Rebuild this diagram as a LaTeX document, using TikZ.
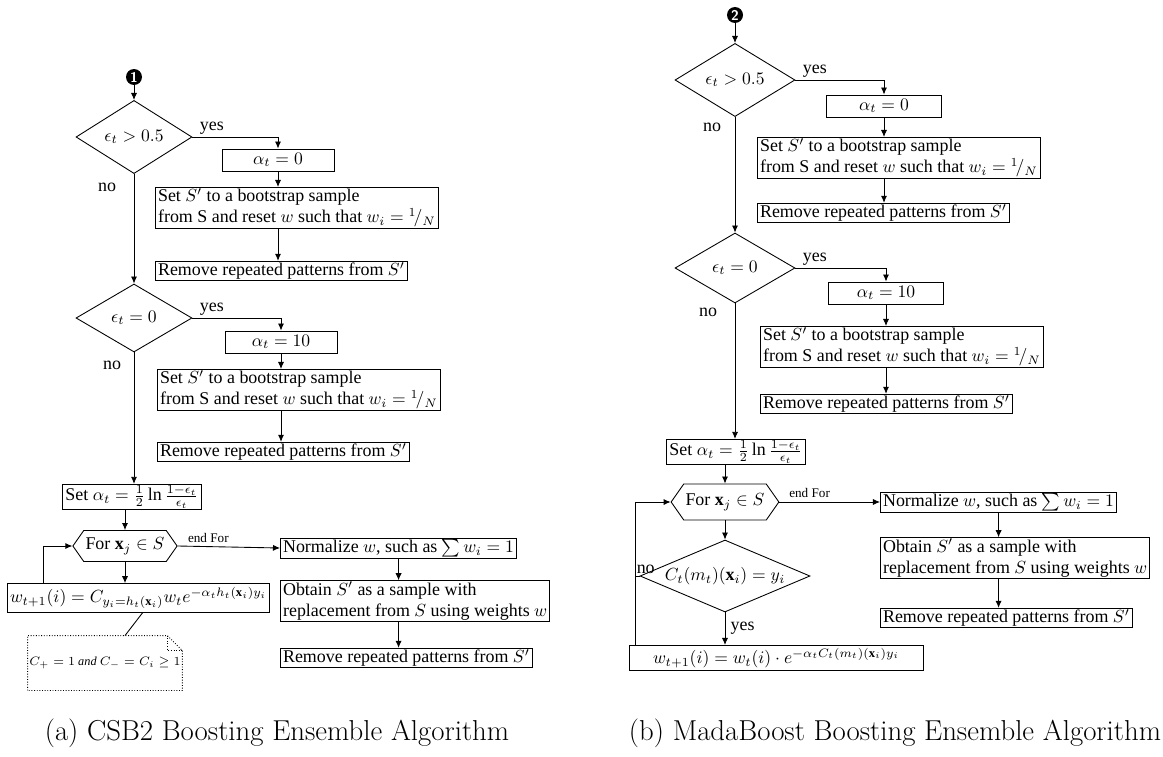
\documentclass[tikz,border=0pt]{standalone}
\usepackage{fontspec}
\setmainfont{Liberation Serif}
\newfontfamily\capfont{Latin Modern Roman}
\usetikzlibrary{shapes.geometric, shapes.symbols, arrows.meta, positioning, calc}

\begin{document}
\begin{tikzpicture}[x=0.02cm, y=-0.02cm, font=\fontsize{10.2}{12}\selectfont, line width=0.5pt,
          stepbox/.style={rectangle, draw, inner xsep=1.5pt, inner ysep=0.7pt, align=left},
          alphabox/.style={rectangle, draw, minimum width=2.24cm, minimum height=0.44cm, inner sep=0pt},
          decision/.style={diamond, draw, inner sep=0pt},
          loopbox/.style={signal, signal to=west and east, signal pointer angle=110, draw, inner sep=1pt},
          notebox/.style={minimum width=3.08cm, minimum height=1.08cm, inner sep=0pt, font=\fontsize{7}{8}\selectfont},
          startdot/.style={circle, fill=black, text=white, inner sep=0pt, minimum size=0.32cm, font=\sffamily\bfseries\fontsize{8}{8}\selectfont},
          lbl/.style={inner sep=1pt},
          endfor/.style={above, inner sep=2pt, font=\fontsize{7.5}{9}\selectfont},
          caption/.style={font=\capfont\fontsize{16.4}{19}\selectfont},
          arrow/.style={-{Latex[length=4pt,width=3.5pt]}}]

        \useasboundingbox (0,0) rectangle (1163,757);

        % (a) CSB2
        \node [startdot] (n1) at (134,77) {1};
        \node [decision, minimum width=2.32cm, minimum height=1.36cm] (d1) at (134,137) {$\epsilon_t > 0.5$};
        \node [lbl, anchor=south west] (y1) at ([xshift=3pt]d1.east) {yes};
        \node [alphabox] (a1) at (278,160) {$\alpha_t = 0$};
        \node [stepbox, anchor=west] (s1) at (155,208) {Set $S'$ to a bootstrap sample\\from S and reset $w$ such that $w_i = {}^{1}\!/_{N}$};
        \node [stepbox, anchor=west] (r1) at (155,271) {Remove repeated patterns from $S'$};
        \node [lbl] (no1) at (107,187) {no};

        \node [decision, minimum width=2.32cm, minimum height=1.36cm] (d2) at (134,318) {$\epsilon_t = 0$};
        \node [lbl, anchor=south west] (y2) at ([xshift=3pt]d2.east) {yes};
        \node [alphabox] (a2) at (281,342) {$\alpha_t = 10$};
        \node [stepbox, anchor=west] (s2) at (157,390) {Set $S'$ to a bootstrap sample\\from S and reset $w$ such that $w_i = {}^{1}\!/_{N}$};
        \node [stepbox, anchor=west] (r2) at (157,452) {Remove repeated patterns from $S'$};
        \node [lbl] (no2) at (112,365) {no};

        \node [stepbox] (sa1) at (132,497) {Set $\alpha_t = \frac{1}{2}\ln\frac{1-\epsilon_t}{\epsilon_t}$};
        \node [loopbox, minimum width=1.94cm, minimum height=0.62cm] (hx1) at (125,546) {For $\mathbf{x}_j \in S$};
        \node [stepbox, anchor=west] (nm1) at (280,548) {Normalize $w$, such as $\sum w_i = 1$};
        \node [stepbox, anchor=west] (ob1) at (280,601) {Obtain $S'$ as a sample with\\replacement from $S$ using weights $w$};
        \node [stepbox, anchor=west] (r3) at (280,658) {Remove repeated patterns from $S'$};
        \node [stepbox, anchor=west, inner ysep=2pt] (w1) at (7,598) {$w_{t+1}(i) = C_{y_i = h_t(\mathbf{x}_i)} w_t e^{-\alpha_t h_t(\mathbf{x}_i) y_i}$};
        \node [notebox] (nt1) at (105,663) {$C_+ = 1$ \textit{and} $C_- = C_i \geq 1$};
        \draw [densely dotted] (nt1.south west) -- (nt1.north west) -- ([xshift=-0.3cm]nt1.north east) -- ([yshift=-0.3cm]nt1.north east) -- (nt1.south east) -- cycle;
        \draw [densely dotted] ([xshift=-0.3cm]nt1.north east) |- ([yshift=-0.3cm]nt1.north east);

        \draw [arrow] (n1) -- (d1.north);
        \draw [arrow] (d1.east) -| (a1.north);
        \draw [arrow] (a1.south) -- (a1.south |- s1.north);
        \draw [arrow] (a1 |- s1.south) -- (a1 |- r1.north);
        \draw [arrow] (d1.south) -- (d2.north);
        \draw [arrow] (d2.east) -| (a2.north);
        \draw [arrow] (a2.south) -- (a2.south |- s2.north);
        \draw [arrow] (a2 |- s2.south) -- (a2 |- r2.north);
        \draw [arrow] (d2.south) -- (d2.south |- sa1.north);
        \draw [arrow] (hx1 |- sa1.south) -- (hx1.north);
        \draw [arrow] (hx1.east) -- node [endfor, pos=0.3] (ef1) {end For} (nm1.west);
        \draw [arrow] (nm1.south) -- (nm1.south |- ob1.north);
        \draw [arrow] (nm1 |- ob1.south) -- (nm1 |- r3.north);
        \draw [arrow] (hx1.south) -- (hx1.south |- w1.north);
        \draw [arrow] ([xshift=0.72cm]w1.north west) |- (hx1.west);
        \draw ([xshift=0.08cm]w1.south) -- ([xshift=0.4cm]nt1.north);

        % (b) MadaBoost
        \node [startdot] (n2) at (735,15) {2};
        \node [decision, minimum width=2.4cm, minimum height=1.44cm] (d3) at (735,80) {$\epsilon_t > 0.5$};
        \node [lbl, anchor=south west] (y3) at ([xshift=3pt]d3.east) {yes};
        \node [alphabox, minimum width=2.3cm] (a3) at (884,106) {$\alpha_t = 0$};
        \node [stepbox, anchor=west] (s3) at (757,158) {Set $S'$ to a bootstrap sample\\from S and reset $w$ such that $w_i = {}^{1}\!/_{N}$};
        \node [stepbox, anchor=west] (r4) at (757,213) {Remove repeated patterns from $S'$};
        \node [lbl] (no3) at (712,127) {no};

        \node [decision, minimum width=2.4cm, minimum height=1.4cm] (d4) at (735,268) {$\epsilon_t = 0$};
        \node [lbl, anchor=south west] (y4) at ([xshift=3pt]d4.east) {yes};
        \node [alphabox, minimum width=2.3cm] (a4) at (886,293) {$\alpha_t = 10$};
        \node [stepbox, anchor=west] (s4) at (760,347) {Set $S'$ to a bootstrap sample\\from S and reset $w$ such that $w_i = {}^{1}\!/_{N}$};
        \node [stepbox, anchor=west] (r5) at (760,404) {Remove repeated patterns from $S'$};
        \node [lbl] (no4) at (708,312) {no};

        \node [stepbox] (sa2) at (736,452) {Set $\alpha_t = \frac{1}{2}\ln\frac{1-\epsilon_t}{\epsilon_t}$};
        \node [loopbox, minimum width=1.96cm, minimum height=0.72cm] (hx2) at (725,502) {For $\mathbf{x}_j \in S$};
        \node [stepbox, anchor=west] (nm2) at (880,502) {Normalize $w$, such as $\sum w_i = 1$};
        \node [stepbox, anchor=west] (ob2) at (880,558) {Obtain $S'$ as a sample with\\replacement from $S$ using weights $w$};
        \node [stepbox, anchor=west] (r6) at (880,618) {Remove repeated patterns from $S'$};
        \node [decision, aspect=2.4, minimum width=3.4cm, minimum height=1.44cm] (dc) at (725,576) {$C_t(m_t)(\mathbf{x}_i) = y_i$};
        \node [stepbox, anchor=west, minimum width=5.88cm, inner ysep=1.5pt, align=center] (w2) at (629,658) {$w_{t+1}(i) = w_t(i) \cdot e^{-\alpha_t C_t(m_t)(\mathbf{x}_i) y_i}$};
        \coordinate (lp2) at ([xshift=0.12cm]w2.north west);
        \node [lbl, anchor=south west] (no5) at ([xshift=-0.1cm]dc.west) {no};

        \draw [arrow] (n2) -- (d3.north);
        \draw [arrow] (d3.east) -| (a3.north);
        \draw [arrow] (a3.south) -- (a3.south |- s3.north);
        \draw [arrow] (a3 |- s3.south) -- (a3 |- r4.north);
        \draw [arrow] (d3.south) -- (d4.north);
        \draw [arrow] (d4.east) -| (a4.north);
        \draw [arrow] (a4.south) -- (a4.south |- s4.north);
        \draw [arrow] (a4 |- s4.south) -- (a4 |- r5.north);
        \draw [arrow] (d4.south) -- (d4.south |- sa2.north);
        \draw [arrow] (hx2 |- sa2.south) -- (hx2.north);
        \draw [arrow] (hx2.east) -- node [endfor, pos=0.3] (ef2) {end For} (nm2.west);
        \draw [arrow] (nm2.south) -- (nm2.south |- ob2.north);
        \draw [arrow] (nm2 |- ob2.south) -- (nm2 |- r6.north);
        \draw [arrow] (hx2.south) -- (dc.north);
        \draw [arrow] (dc.south) -- node [lbl, right=2pt] (y5) {yes} (dc.south |- w2.north);
        \draw (dc.west) -- (dc.west -| lp2);
        \draw [arrow] (lp2) |- (hx2.west);

        % captions
        \node [caption] (cap1) at (277,733) {(a) CSB2 Boosting Ensemble Algorithm};
        \node [caption] (cap2) at (895,733) {(b) MadaBoost Boosting Ensemble Algorithm};
      \end{tikzpicture}
\end{document}
